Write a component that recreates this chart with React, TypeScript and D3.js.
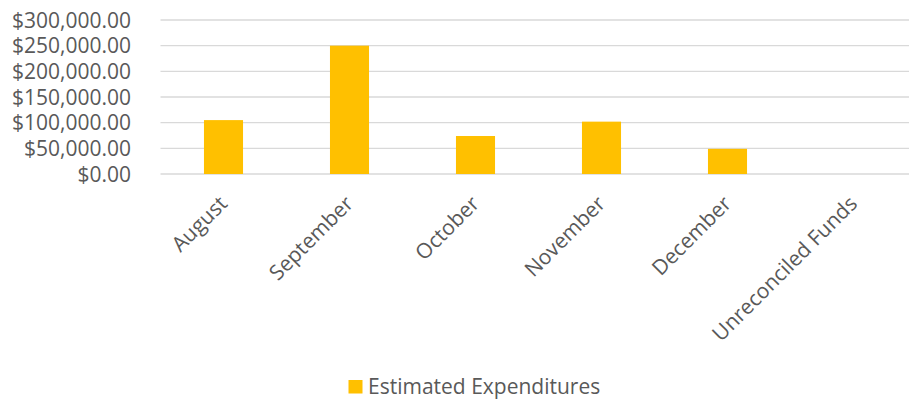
import React, { useEffect, useRef } from "react";
import { select, scaleBand, scaleLinear, format } from "d3";

const months: string[] = [
  "August",
  "September",
  "October",
  "November",
  "December",
  "Unreconciled Funds",
];
const expenditures: number[] = [105000, 250000, 74000, 102000, 49000, 0];
const yTicks: number[] = [0, 50000, 100000, 150000, 200000, 250000, 300000];
const seriesName: string = "Estimated Expenditures";

const App: React.FC = () => {
  const svgRef = useRef<SVGSVGElement | null>(null);
  const WIDTH: number = 909;
  const HEIGHT: number = 401;
  const margin = { top: 20, left: 160.5, right: -7.5, bottom: 227 };
  const FONT = "'Open Sans', sans-serif";
  const TEXT_COLOR = "#595959";

  useEffect(() => {
    const svg = select(svgRef.current);
    svg.selectAll("*").remove();

    const x = scaleBand()
      .domain(months)
      .range([margin.left, WIDTH - margin.right])
      .paddingInner(0.69)
      .paddingOuter(0.345);
    const y = scaleLinear()
      .domain([0, 300000])
      .range([HEIGHT - margin.bottom, margin.top]);
    const money = format("$,.2f");

    // gridlines
    svg
      .append("g")
      .selectAll("line")
      .data(yTicks)
      .join("line")
      .attr("x1", margin.left)
      .attr("x2", WIDTH)
      .attr("y1", (d) => y(d))
      .attr("y2", (d) => y(d))
      .style("stroke", "#d9d9d9")
      .style("stroke-width", 1.3);

    // y labels
    svg
      .append("g")
      .selectAll("text")
      .data(yTicks)
      .join("text")
      .attr("x", 131)
      .attr("y", (d) => y(d))
      .attr("dy", "0.36em")
      .attr("text-anchor", "end")
      .style("font-family", FONT)
      .style("font-size", "21px")
      .style("fill", TEXT_COLOR)
      .text((d) => money(d));

    // bars
    svg
      .append("g")
      .selectAll("rect")
      .data(expenditures)
      .join("rect")
      .attr("x", (_, i) => x(months[i]) as number)
      .attr("width", x.bandwidth())
      .attr("y", (d) => y(d))
      .attr("height", (d) => y(0) - y(d))
      .style("fill", "#FFC000");

    // x labels, rotated
    svg
      .append("g")
      .selectAll("text")
      .data(months)
      .join("text")
      .attr("text-anchor", "end")
      .attr("transform", (d) => {
        const cx = (x(d) as number) + x.bandwidth() / 2 + 5;
        const cy = y(0) + 31;
        return `translate(${cx},${cy}) rotate(-45)`;
      })
      .style("font-family", FONT)
      .style("font-size", "21px")
      .style("fill", TEXT_COLOR)
      .text((d) => d);

    // legend
    const legend = svg.append("g");
    legend
      .append("rect")
      .attr("x", 348.5)
      .attr("y", 380)
      .attr("width", 14)
      .attr("height", 13.5)
      .style("fill", "#FFC000");
    legend
      .append("text")
      .attr("x", 368)
      .attr("y", 394)
      .style("font-family", FONT)
      .style("font-size", "21px")
      .style("fill", TEXT_COLOR)
      .text(seriesName);
  }, []);

  return (
    <svg
      ref={svgRef}
      width={WIDTH}
      height={HEIGHT}
      style={{ position: "absolute", left: 0, top: 0, background: "white" }}
    />
  );
};

export default App;
